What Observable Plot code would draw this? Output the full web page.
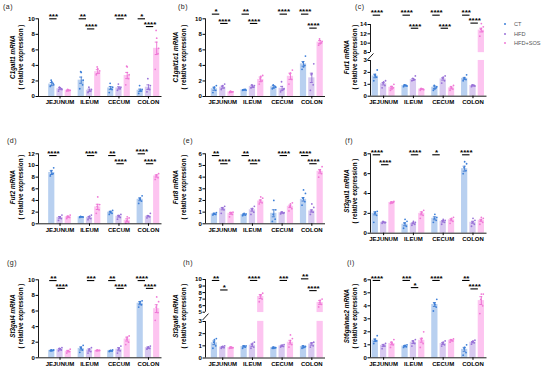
<!DOCTYPE html>
<html><head><meta charset="utf-8">
<script src="https://cdn.jsdelivr.net/npm/d3@7"></script>
<script src="https://cdn.jsdelivr.net/npm/@observablehq/plot@0.6"></script>
<style>
html,body{margin:0;padding:0;background:#fff;}
#fig{position:relative;width:550px;height:370px;overflow:hidden;font-family:"Liberation Sans",Arial,sans-serif;}
#fig svg{position:absolute;overflow:visible;background:transparent;}
.lab{position:absolute;font-size:7px;color:#222;transform:translateY(-50%);letter-spacing:0.5px;}
.yt{position:absolute;width:110px;height:16px;white-space:nowrap;font-weight:bold;font-size:6.3px;line-height:7.6px;text-align:center;color:#000;transform:rotate(-90deg);transform-origin:50% 50%;}
.leg{position:absolute;font-size:5.6px;color:#555;transform:translateY(-50%);}
.ld{position:absolute;width:2px;height:2px;border-radius:1px;transform:translate(-50%,-50%);}
</style></head><body><div id="fig"></div><script>
const TISSUES = ["JEJUNUM","ILEUM","CECUM","COLON"];
const GROUPS = ["CT","HFD","HFD+SOS"];

// (a) C1galt1
const aMean = [1.6,1.0,0.8, 2.1,0.8,3.2, 1.1,1.1,2.7, 0.8,1.2,6.2];
const aErr  = [0.2,0.12,0.05, 0.4,0.15,0.25, 0.18,0.15,0.4, 0.15,0.3,0.8];
const aPts  = [[1.3,1.7,2.1,1.5,1.9],[0.7,1.0,1.2,0.9,1.1],[0.7,0.8,0.9,0.8,0.75],
               [1.0,1.5,3.2,2.1,3.1],[0.5,0.7,1.2,0.9,0.8],[2.8,3.0,3.8,3.3,3.6],
               [0.5,0.9,1.7,1.2,1.0],[0.8,1.0,1.6,1.2,1.1],[1.5,2.3,3.9,2.8,3.8],
               [0.4,0.7,1.4,0.9,0.8],[0.6,0.9,2.3,1.4,1.0],[3.5,5.5,8.5,6.2,7.5]];
const aSig  = [[0,0,10,"***"],[1,0,10,"**"],[1,1,8.7,"****"],[2,1,10,"****"],[3,0,10,"*"],[3,1,9.0,"****"]];
const aTicks = [0,2,4,6,8,10];

// (b) C1galt1c1
const bMean = [1.0,1.2,0.6, 0.85,1.3,2.2, 1.25,1.05,2.6, 4.2,2.4,7.0];
const bErr  = [0.2,0.15,0.05, 0.05,0.15,0.3, 0.15,0.25,0.4, 0.3,0.6,0.2];
const bPts  = [[0.5,0.8,1.1,1.4,1.2],[0.9,1.1,1.3,1.6,1.4],[0.5,0.6,0.7,0.6,0.55],
               [0.8,0.9,0.85,0.8,0.9],[1.1,1.2,1.5,1.4,1.3],[1.6,2.0,2.3,2.7,2.6],
               [1.0,1.3,1.5,1.2,1.1],[0.6,0.9,1.9,1.0,0.8],[1.6,2.2,2.9,3.4,3.0],
               [3.5,4.0,4.4,5.2,3.8],[0.8,1.5,2.8,4.2,2.9],[6.6,6.9,7.4,7.1,6.8]];
const bSig  = [[0,0,10.6,"*"],[0,1,9.4,"****"],[1,0,10.6,"**"],[1,1,9.4,"****"],[2,1,10.6,"****"],[3,0,10.6,"****"],[3,1,8.8,"****"]];
const bTicks = [0,2,4,6,8,10];

// (c) Fut1 (broken axis)
const cMean = [1.7,1.05,0.75, 0.9,1.4,0.6, 0.75,1.45,0.7, 1.5,0.9,12.8];
const cErr  = [0.15,0.1,0.08, 0.04,0.08,0.04, 0.1,0.1,0.08, 0.08,0.04,0.4];
const cPts  = [[1.3,1.6,1.8,2.2,1.7],[0.7,0.9,1.1,1.3,1.2],[0.5,0.7,0.8,1.0,0.6],
               [0.8,0.9,0.95,0.85,0.9],[1.3,1.4,1.5,1.7,1.35],[0.5,0.6,0.65,0.55,0.6],
               [0.5,0.7,0.9,0.8,0.6],[1.1,1.3,1.5,1.7,1.6],[0.5,0.6,0.8,0.9,0.7],
               [1.3,1.4,1.5,1.8,1.45],[0.8,0.9,0.95,0.85,0.9],[11.5,12.5,13.0,13.5,14.2]];
const cSig  = [[0,0,16,"****"],[1,0,16,"****"],[1,1,13.2,"****"],[2,0,16,"****"],[2,1,13.2,"****"],[3,0,16,"***"],[3,1,14.3,"****"]];
const cTicks = [0,1,2,3,8,10,12,14];

// (d) Fut2
const dMean = [8.8,1.1,1.2, 1.2,1.1,2.9, 2.0,1.3,0.6, 4.2,1.3,8.2];
const dErr  = [0.35,0.15,0.1, 0.05,0.15,0.45, 0.15,0.15,0.25, 0.25,0.1,0.2];
const dPts  = [[8.2,8.6,9.0,9.6,8.5],[0.6,0.9,1.2,1.5,1.1],[0.9,1.1,1.3,1.5,1.2],
               [1.1,1.2,1.25,1.15,1.2],[0.7,0.9,1.2,1.5,1.3],[1.8,2.4,3.0,3.3,4.6],
               [1.6,1.8,2.1,2.3,2.0],[0.8,1.1,1.4,1.6,1.3],[0.1,0.3,0.5,1.0,1.2],
               [3.5,3.9,4.3,4.8,4.2],[1.0,1.2,1.4,1.8,1.3],[7.6,7.9,8.2,8.6,8.4]];
const dSig  = [[0,0,11.7,"****"],[1,1,11.7,"****"],[2,0,11.7,"**"],[2,1,10.3,"****"],[3,0,12.0,"****"],[3,1,10.3,"****"]];
const dTicks = [0,2,4,6,8,10,12];

// (e) Fut8
const eMean = [0.85,1.3,0.9, 0.8,1.2,1.95, 0.9,0.95,1.5, 2.1,1.1,4.5];
const eErr  = [0.05,0.1,0.08, 0.05,0.12,0.1, 0.3,0.05,0.1, 0.15,0.1,0.15];
const ePts  = [[0.75,0.8,0.9,0.95,0.85],[0.9,1.2,1.35,1.5,1.3],[0.6,0.8,0.95,1.0,0.9],
               [0.7,0.75,0.8,0.85,0.9],[0.8,1.0,1.2,1.5,1.3],[1.7,1.8,2.0,2.2,2.3],
               [0.2,0.4,0.8,1.2,2.0],[0.85,0.9,1.0,0.95,1.0],[1.1,1.3,1.5,1.8,1.7],
               [1.6,1.9,2.2,2.6,2.9],[0.8,1.0,1.1,1.4,1.7],[4.0,4.3,4.6,4.9,4.5]];
const eSig  = [[0,0,5.85,"**"],[0,1,5.15,"****"],[1,0,5.85,"**"],[1,1,5.15,"****"],[2,1,5.85,"****"],[3,0,5.85,"****"],[3,1,5.15,"****"]];
const eTicks = [0,1,2,3,4,5,6];

// (f) St3gal1
const fMean = [2.0,1.1,3.1, 0.9,1.0,2.0, 1.5,1.2,1.35, 6.5,1.1,1.3];
const fErr  = [0.15,0.05,0.05, 0.15,0.05,0.15, 0.15,0.08,0.1, 0.25,0.1,0.1];
const fPts  = [[1.1,1.8,2.0,2.2,2.1],[1.0,1.05,1.2,1.1,1.15],[3.0,3.1,3.15,3.2,3.05],
               [0.5,0.7,1.0,1.2,1.4],[0.8,0.9,1.0,1.1,1.2],[1.5,1.8,2.0,2.3,2.1],
               [1.1,1.3,1.5,1.6,1.9],[0.9,1.1,1.2,1.3,1.4],[1.0,1.2,1.4,1.6,1.5],
               [6.0,6.3,6.6,7.0,7.2],[0.7,0.9,1.1,1.3,1.5],[0.9,1.1,1.3,1.5,1.6]];
const fSig  = [[0,0,7.9,"****"],[0,1,6.9,"****"],[1,1,7.9,"****"],[2,0,7.9,"*"],[3,0,7.9,"****"]];
const fTicks = [0,2,4,6,8];

// (g) St3gal4
const gMean = [0.95,1.1,0.85, 1.2,1.0,0.95, 0.9,1.1,2.4, 7.0,1.3,6.3];
const gErr  = [0.05,0.1,0.1, 0.2,0.15,0.03, 0.05,0.2,0.25, 0.2,0.1,0.5];
const gPts  = [[0.9,0.95,1.0,1.0,0.9],[0.9,1.0,1.2,1.3,1.1],[0.6,0.8,0.9,1.1,0.9],
               [0.7,1.0,1.3,1.6,1.2],[0.6,0.8,1.0,1.3,1.1],[0.9,0.95,1.0,0.95,0.9],
               [0.8,0.85,0.9,1.0,0.95],[0.6,0.9,1.1,1.5,1.2],[1.7,2.0,2.4,2.8,2.6],
               [6.5,6.8,7.0,7.3,7.2],[1.1,1.2,1.3,1.5,1.35],[4.8,5.8,6.5,7.2,7.8]];
const gSig  = [[0,0,9.9,"**"],[0,1,8.9,"****"],[1,1,9.9,"***"],[2,0,9.9,"**"],[2,1,8.9,"****"],[3,0,9.9,"****"],[3,1,8.9,"****"]];
const gTicks = [0,2,4,6,8,10];

// (h) St3gal6 (broken axis)
const hMean = [1.25,0.9,0.85, 0.95,1.05,7.4, 0.85,1.0,1.3, 0.95,1.15,6.5];
const hErr  = [0.15,0.05,0.05, 0.05,0.1,0.3, 0.05,0.05,0.15, 0.05,0.1,0.3];
const hPts  = [[0.8,1.0,1.3,1.6,1.5],[0.8,0.85,0.9,1.0,0.95],[0.8,0.85,0.9,0.85,0.9],
               [0.8,0.9,1.0,1.0,0.95],[0.8,0.9,1.1,1.3,1.2],[6.6,7.0,7.5,7.9,7.6],
               [0.8,0.85,0.9,0.85,0.8],[0.9,0.95,1.0,1.1,1.05],[0.9,1.1,1.3,1.6,1.9],
               [0.8,0.9,1.0,0.95,0.85],[0.9,1.0,1.2,1.3,1.25],[5.8,6.2,6.5,7.0,6.8]];
const hSig  = [[0,0,9.85,"**"],[0,1,8.4,"*"],[1,1,9.85,"****"],[2,1,9.85,"***"],[3,0,10.1,"**"],[3,1,8.3,"****"]];
const hTicks = [0,1,2,3,5,6,7,8,9,10];

// (i) St6galnac2
const iMean = [1.35,0.95,1.1, 0.9,1.2,1.35, 4.1,1.1,1.35, 0.65,1.2,4.4];
const iErr  = [0.1,0.08,0.1, 0.05,0.1,0.15, 0.15,0.08,0.05, 0.15,0.05,0.3];
const iPts  = [[1.1,1.3,1.4,1.7,1.3],[0.7,0.9,1.0,1.1,0.95],[0.8,1.0,1.2,1.4,1.1],
               [0.8,0.85,0.9,1.0,0.95],[0.9,1.1,1.3,1.4,1.2],[0.8,1.1,1.4,2.0,1.5],
               [3.6,3.9,4.2,4.5,4.1],[0.9,1.0,1.1,1.3,1.2],[1.2,1.3,1.4,1.45,1.35],
               [0.2,0.4,0.7,1.0,0.8],[1.05,1.15,1.2,1.35,1.3],[3.4,4.0,4.5,4.9,4.9]];
const iSig  = [[0,0,5.95,"****"],[1,0,5.95,"***"],[1,1,5.4,"*"],[2,0,5.95,"****"],[3,0,5.95,"**"],[3,1,5.3,"****"]];
const iTicks = [0,1,2,3,4,5,6];

const GENES = ["C1galt1","C1galt1c1","Fut1","Fut2","Fut8","St3gal1","St3gal4","St3gal6","St6galnac2"];

// styling
const BAR = ["#b8d0f0","#d8c9f0","#fdc4f0"];
const DOT = ["#3d7fd8","#9a72d8","#f07ad6"];
const ERR = ["#2f6fcc","#8a5fd0","#e85ecb"];
const OFF = [-0.28, 0, 0.28], HW = 0.105, JIT = [-0.05, 0.045, -0.02, 0.065, 0.0];

const COLS = [
  {svgL: 24, axisX: 38, endX: 161.5, xd: [-0.73, 3.46]},
  {svgL: 191, axisX: 205, endX: 325, xd: [-0.58, 3.46]},
  {svgL: 356, axisX: 370, endX: 486.5, xd: [-0.44, 3.47]}
];
const ROWS = [{svgT: 0, H: 112}, {svgT: 126, H: 119}, {svgT: 254, H: 116}];

const fig = document.getElementById("fig");

function makePanel(c){
  const col = COLS[c.col], row = ROWS[c.row];
  const {svgL, axisX, endX, xd} = col;
  const {svgT, H} = row;
  const W = endX - svgL + 6;
  // broken axes: map value -> pixels above the zero line (piecewise); plain axes: identity
  const T = c.yd ? d3.scaleLinear().domain(c.yd).range(c.yr.map(r => c.yr[0] - r)) : (v => v);
  const topY = c.yd ? c.yr[c.yr.length - 1] : c.topY;
  const zeroY = c.yd ? c.yr[0] : c.zeroY;
  const ymax = c.yd ? c.yr[0] - c.yr[c.yr.length - 1] : c.ymax;
  const bars = [], dots = [];
  for (let g = 0; g < 4; g++) for (let s = 0; s < 3; s++) {
    const i = g * 3 + s, x = g + OFF[s];
    bars.push({x, v: c.mean[i], e: c.err[i], s});
    c.pts[i].forEach((v, k) => dots.push({x: x + JIT[k], v, s}));
  }
  const sg = c.sig.map(([g, pr, lvl, txt]) => ({x1: g + OFF[pr] - 0.07, x2: g + OFF[pr + 1] - 0.1, lvl, txt}));
  const tickPos = c.ticks.map(t => T(t));
  const tickLab = new Map(c.ticks.map(t => [T(t), t]));
  const marks = [
    Plot.rect(bars, {x1: d => d.x - HW, x2: d => d.x + HW, y1: () => 0, y2: d => T(d.v), fill: d => BAR[d.s]})
  ];
  if (c.gap) marks.push(Plot.rect([c.gap], {x1: () => xd[0] + 0.03, x2: () => xd[1], y1: d => T(d[0]), y2: d => T(d[1]), fill: "#fff"}));
  marks.push(
    Plot.ruleX(bars, {x: "x", y1: d => T(d.v - d.e), y2: d => T(d.v + d.e), stroke: d => ERR[d.s], strokeWidth: 0.8}),
    Plot.ruleY(bars, {y: d => T(d.v + d.e), x1: d => d.x - 0.05, x2: d => d.x + 0.05, stroke: d => ERR[d.s], strokeWidth: 0.8}),
    Plot.ruleY(bars, {y: d => T(d.v - d.e), x1: d => d.x - 0.05, x2: d => d.x + 0.05, stroke: d => ERR[d.s], strokeWidth: 0.8}),
    Plot.dot(dots, {x: "x", y: d => T(d.v), r: 0.9, fill: d => DOT[d.s]}),
    Plot.ruleY([0], {stroke: "#000", strokeWidth: 0.9}),
    Plot.ruleX(c.segs, {x: () => xd[0], y1: d => T(d[0]), y2: d => T(d[1]), stroke: "#000", strokeWidth: 0.9}),
    Plot.axisY(tickPos, {tickFormat: v => tickLab.get(v), tickSize: 2.5, tickPadding: 1.2, fontSize: 6, fontWeight: "bold"}),
    Plot.axisX([0, 1, 2, 3], {tickFormat: i => TISSUES[i], tickSize: 2.5, tickPadding: 1.2, fontSize: 6, fontWeight: "bold"}),
    Plot.ruleY(sg, {y: d => T(d.lvl), x1: "x1", x2: "x2", stroke: "#000", strokeWidth: 1.1}),
    Plot.text(sg, {x: d => (d.x1 + d.x2) / 2, y: d => T(d.lvl), text: "txt", lineAnchor: "bottom", dy: 0.3, fontSize: 8, fontWeight: "bold"})
  );
  if (c.slash) marks.push(Plot.link([c.slash], {x1: () => xd[0] - 0.1, x2: () => xd[0] + 0.1, y1: d => T(d[0]), y2: d => T(d[1]), stroke: "#000", strokeWidth: 0.9}));
  const svg = Plot.plot({
    width: W, height: H,
    marginLeft: axisX - svgL, marginRight: W - (endX - svgL),
    marginTop: topY - svgT, marginBottom: H - (zeroY - svgT),
    x: {domain: xd, label: null, axis: null},
    y: {domain: [0, ymax], label: null, axis: null},
    color: {type: "identity"},
    style: {fontFamily: "'Liberation Sans', Arial, sans-serif", fontSize: "6px", color: "#000", background: "transparent", overflow: "visible"},
    marks
  });
  svg.style.left = svgL + "px";
  svg.style.top = svgT + "px";
  fig.appendChild(svg);
}

const P = [
  {col: 0, row: 0, mean: aMean, err: aErr, pts: aPts, sig: aSig, ticks: aTicks, ymax: 10, topY: 18.3, zeroY: 96, segs: [[0, 10]]},
  {col: 1, row: 0, mean: bMean, err: bErr, pts: bPts, sig: bSig, ticks: bTicks, ymax: 10, topY: 18.3, zeroY: 96, segs: [[0, 10]]},
  {col: 2, row: 0, mean: cMean, err: cErr, pts: cPts, sig: cSig, ticks: cTicks, yd: [0, 3, 8, 14], yr: [95.7, 60, 52, 24], gap: [3.03, 7.9], slash: [3.4, 7.4], segs: [[0, 3], [8, 14]]},
  {col: 0, row: 1, mean: dMean, err: dErr, pts: dPts, sig: dSig, ticks: dTicks, ymax: 12, topY: 153.3, zeroY: 223.3, segs: [[0, 12]]},
  {col: 1, row: 1, mean: eMean, err: eErr, pts: ePts, sig: eSig, ticks: eTicks, ymax: 6, topY: 153.3, zeroY: 223.3, segs: [[0, 6]]},
  {col: 2, row: 1, mean: fMean, err: fErr, pts: fPts, sig: fSig, ticks: fTicks, ymax: 8, topY: 153.3, zeroY: 232.7, segs: [[0, 8]]},
  {col: 0, row: 2, mean: gMean, err: gErr, pts: gPts, sig: gSig, ticks: gTicks, ymax: 10, topY: 279.3, zeroY: 357.3, segs: [[0, 10]]},
  {col: 1, row: 2, mean: hMean, err: hErr, pts: hPts, sig: hSig, ticks: hTicks, yd: [0, 3, 5, 10], yr: [357.5, 321, 311.7, 279], gap: [3.03, 4.92], slash: [3.3, 4.7], segs: [[0, 3], [5, 10]]},
  {col: 2, row: 2, mean: iMean, err: iErr, pts: iPts, sig: iSig, ticks: iTicks, ymax: 6, topY: 279.3, zeroY: 357.3, segs: [[0, 6]]}
];
P.forEach(makePanel);

// panel letters
const LETTERS = ["(a)","(b)","(c)","(d)","(e)","(f)","(g)","(h)","(i)"];
const LPOS = [[3,6],[178,6],[355,6],[7,140],[183,140],[345,140],[7,262],[183,262],[347,262]];
LETTERS.forEach((t, k) => {
  const d = document.createElement("div");
  d.className = "lab"; d.textContent = t;
  d.style.left = LPOS[k][0] + "px"; d.style.top = LPOS[k][1] + "px";
  fig.appendChild(d);
});

// y titles
const TX = [17, 179.5, 351];
const TY = [57, 187, 316];
GENES.forEach((g, k) => {
  const d = document.createElement("div");
  d.className = "yt";
  const cx = TX[k % 3], cy = TY[Math.floor(k / 3)] + (k === 5 ? 4 : 0);
  d.style.left = (cx - 55) + "px"; d.style.top = (cy - 8) + "px";
  const i1 = document.createElement("i"); i1.textContent = g + " mRNA";
  d.appendChild(i1); d.appendChild(document.createElement("br"));
  d.appendChild(document.createTextNode("( relative expression )"));
  fig.appendChild(d);
});

// legend
const LEGY = [24, 34, 43.3];
GROUPS.forEach((g, k) => {
  const dot = document.createElement("div");
  dot.className = "ld"; dot.style.background = DOT[k];
  dot.style.left = "505px"; dot.style.top = LEGY[k] + "px";
  fig.appendChild(dot);
  const t = document.createElement("div");
  t.className = "leg"; t.textContent = g;
  t.style.left = "514px"; t.style.top = LEGY[k] + "px";
  fig.appendChild(t);
});
</script></body></html>
